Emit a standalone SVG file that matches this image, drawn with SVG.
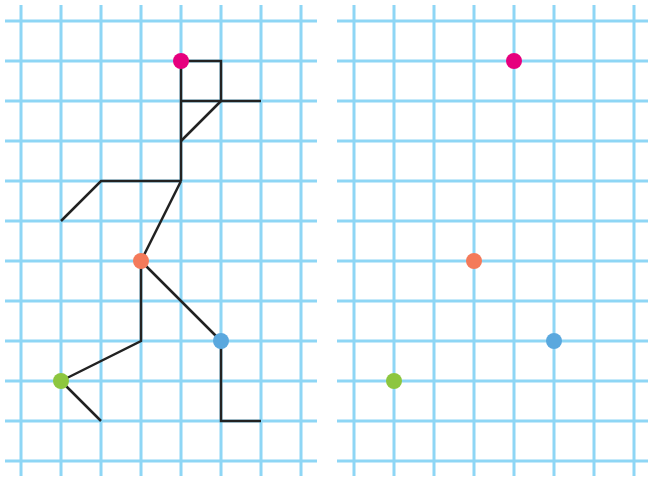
<svg xmlns="http://www.w3.org/2000/svg" width="648" height="479" viewBox="0 0 648 479">
<style>
.g{stroke:#8ed6f5;stroke-width:3;fill:none}
.k{stroke:#222;stroke-width:2.5;fill:none;stroke-linejoin:miter;stroke-linecap:butt}
</style>
<rect width="648" height="479" fill="#fff"/>
<g id="grid-left" class="g">
<path d="M21 5V476M61 5V476M101 5V476M141 5V476M181 5V476M221 5V476M261 5V476M301 5V476"/>
<path d="M5 21H317M5 61H317M5 101H317M5 141H317M5 181H317M5 221H317M5 261H317M5 301H317M5 341H317M5 381H317M5 421H317M5 461H317"/>
</g>
<g id="grid-right" class="g">
<path d="M354 5V476M394 5V476M434 5V476M474 5V476M514 5V476M554 5V476M594 5V476M634 5V476"/>
<path d="M337 21H648M337 61H648M337 101H648M337 141H648M337 181H648M337 221H648M337 261H648M337 301H648M337 341H648M337 381H648M337 421H648M337 461H648"/>
</g>
<g id="connectors" class="k">
<path d="M181 61H221V101"/>
<path d="M181 61V181"/>
<path d="M181 101H261"/>
<path d="M221 101L181 141"/>
<path d="M181 181H101L61 221"/>
<path d="M181 181L141 261"/>
<path d="M141 261L221 341"/>
<path d="M141 261V341L61 381"/>
<path d="M61 381L101 421"/>
<path d="M221 341V421H261"/>
</g>
<g id="dot-pink-left"><circle cx="181" cy="61" r="8" fill="#e6007e"/></g>
<g id="dot-orange-left"><circle cx="141" cy="261" r="8" fill="#f47a5a"/></g>
<g id="dot-blue-left"><circle cx="221" cy="341" r="8" fill="#5aa8de"/></g>
<g id="dot-green-left"><circle cx="61" cy="381" r="8" fill="#8dc63f"/></g>
<g id="dot-pink-right"><circle cx="514" cy="61" r="8" fill="#e6007e"/></g>
<g id="dot-orange-right"><circle cx="474" cy="261" r="8" fill="#f47a5a"/></g>
<g id="dot-blue-right"><circle cx="554" cy="341" r="8" fill="#5aa8de"/></g>
<g id="dot-green-right"><circle cx="394" cy="381" r="8" fill="#8dc63f"/></g>
</svg>
